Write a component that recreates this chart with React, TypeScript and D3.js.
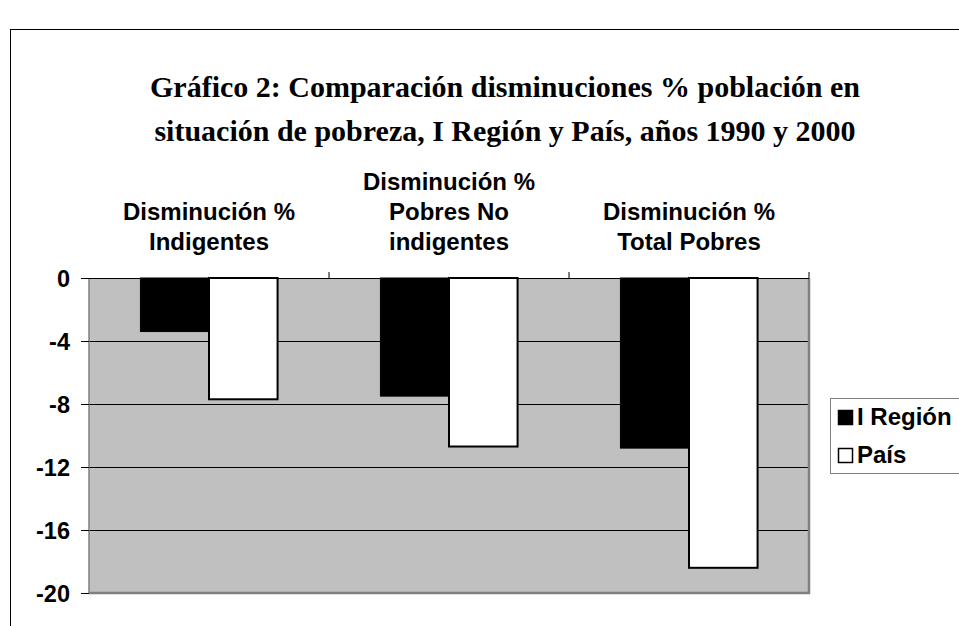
import React from "react";
import * as d3 from "d3";

const categories: string[][] = [
  ["Disminución %", "Indigentes"],
  ["Disminución %", "Pobres No", "indigentes"],
  ["Disminución %", "Total Pobres"],
];
const seriesNames = ["I Región", "País"];
const regionValues = [-3.4, -7.5, -10.8];
const paisValues = [-7.7, -10.7, -18.4];
const yTicks = [0, -4, -8, -12, -16, -20];
const titleLines = [
  "Gráfico 2: Comparación disminuciones % población en",
  "situación de pobreza, I Región y País, años 1990 y 2000",
];

const W = 959;
const H = 626;
const plot = { left: 89, right: 809, top: 278, bottom: 593 };
const SANS = "'Liberation Sans', Arial, sans-serif";
const SERIF = "'Liberation Serif', 'Times New Roman', serif";

export default function App() {
  const keys = categories.map((_, i) => String(i));
  const x = d3.scaleBand<string>().domain(keys).range([plot.left, plot.right]).padding(0);
  const x1 = d3
    .scaleBand<string>()
    .domain(seriesNames)
    .range([0, x.bandwidth()])
    .paddingInner(0)
    .paddingOuter(0.75);
  const y = d3.scaleLinear().domain([0, -20]).range([plot.top, plot.bottom]);
  const series = [
    { name: seriesNames[0], values: regionValues, fill: "#000000" },
    { name: seriesNames[1], values: paisValues, fill: "#ffffff" },
  ];

  return (
    <svg
      width={W}
      height={H}
      style={{ position: "absolute", left: 0, top: 0, background: "#fff" }}
    >
      <rect x={0} y={0} width={W} height={H} fill="#fff" />
      {/* chart frame */}
      <rect x={10.5} y={29.5} width={W + 10} height={H + 10} fill="none" stroke="#000" strokeWidth={1} />

      {/* title */}
      {titleLines.map((t, i) => (
        <text
          key={i}
          x={505}
          y={97 + i * 44}
          textAnchor="middle"
          fontFamily={SERIF}
          fontWeight="bold"
          fontSize={30}
          fill="#000"
        >
          {t}
        </text>
      ))}

      {/* plot background */}
      <rect
        x={plot.left}
        y={plot.top}
        width={plot.right - plot.left}
        height={plot.bottom - plot.top}
        fill="#c0c0c0"
      />
      {/* gridlines */}
      {yTicks
        .filter((t) => t !== 0 && t !== -20)
        .map((t) => (
          <line
            key={t}
            x1={plot.left}
            x2={plot.right}
            y1={Math.round(y(t)) + 0.5}
            y2={Math.round(y(t)) + 0.5}
            stroke="#000"
            strokeWidth={1}
          />
        ))}
      {/* plot border */}
      <line x1={plot.left} x2={plot.left} y1={plot.top} y2={plot.bottom} stroke="#808080" strokeWidth={1.5} />
      <line x1={plot.right} x2={plot.right} y1={plot.top} y2={plot.bottom + 1} stroke="#808080" strokeWidth={2.5} />
      <line x1={plot.left} x2={plot.right + 1} y1={plot.bottom} y2={plot.bottom} stroke="#808080" strokeWidth={2.5} />

      {/* bars */}
      {series.map((s) =>
        s.values.map((v, i) => {
          const bx = (x(keys[i]) as number) + (x1(s.name) as number);
          const top = y(0);
          const h = y(v) - y(0);
          return (
            <rect
              key={s.name + i}
              x={bx}
              y={top}
              width={x1.bandwidth()}
              height={h}
              fill={s.fill}
              stroke="#000"
              strokeWidth={s.fill === "#ffffff" ? 2 : 1}
            />
          );
        })
      )}

      {/* zero axis line */}
      <line x1={plot.left} x2={plot.right} y1={y(0) + 0.5} y2={y(0) + 0.5} stroke="#000" strokeWidth={1} />
      {/* category tick marks on the top axis */}
      {keys.map((k, i) =>
        i === 0 ? null : (
          <line
            key={k}
            x1={x(k) as number}
            x2={x(k) as number}
            y1={y(0)}
            y2={y(0) - 6}
            stroke="#000"
            strokeWidth={1}
          />
        )
      )}
      <line x1={plot.right} x2={plot.right} y1={y(0)} y2={y(0) - 6} stroke="#000" strokeWidth={1} />

      {/* y ticks */}
      {yTicks.map((t) => (
        <g key={t}>
          <line x1={81} x2={plot.left} y1={Math.round(y(t)) + 0.5} y2={Math.round(y(t)) + 0.5} stroke="#000" strokeWidth={1} />
          <text
            x={70}
            y={y(t) + 8.5}
            textAnchor="end"
            fontFamily={SANS}
            fontWeight="bold"
            fontSize={23.5}
            fill="#000"
          >
            {t}
          </text>
        </g>
      ))}

      {/* category labels */}
      {categories.map((lines, i) => {
        const cx = (x(keys[i]) as number) + x.bandwidth() / 2;
        return lines.map((ln, j) => (
          <text
            key={i + "-" + j}
            x={cx}
            y={250 - (lines.length - 1 - j) * 30}
            textAnchor="middle"
            fontFamily={SANS}
            fontWeight="bold"
            fontSize={24}
            fill="#000"
          >
            {ln}
          </text>
        ));
      })}

      {/* legend */}
      <rect x={830.5} y={398.5} width={140} height={75} fill="#fff" stroke="#808080" strokeWidth={1} />
      {series.map((s, i) => (
        <g key={s.name}>
          <rect
            x={838.5}
            y={410.5 + i * 38}
            width={14}
            height={14}
            fill={s.fill}
            stroke="#000"
            strokeWidth={1.5}
          />
          <text
            x={857}
            y={425 + i * 38}
            fontFamily={SANS}
            fontWeight="bold"
            fontSize={24}
            fill="#000"
          >
            {s.name}
          </text>
        </g>
      ))}
    </svg>
  );
}
